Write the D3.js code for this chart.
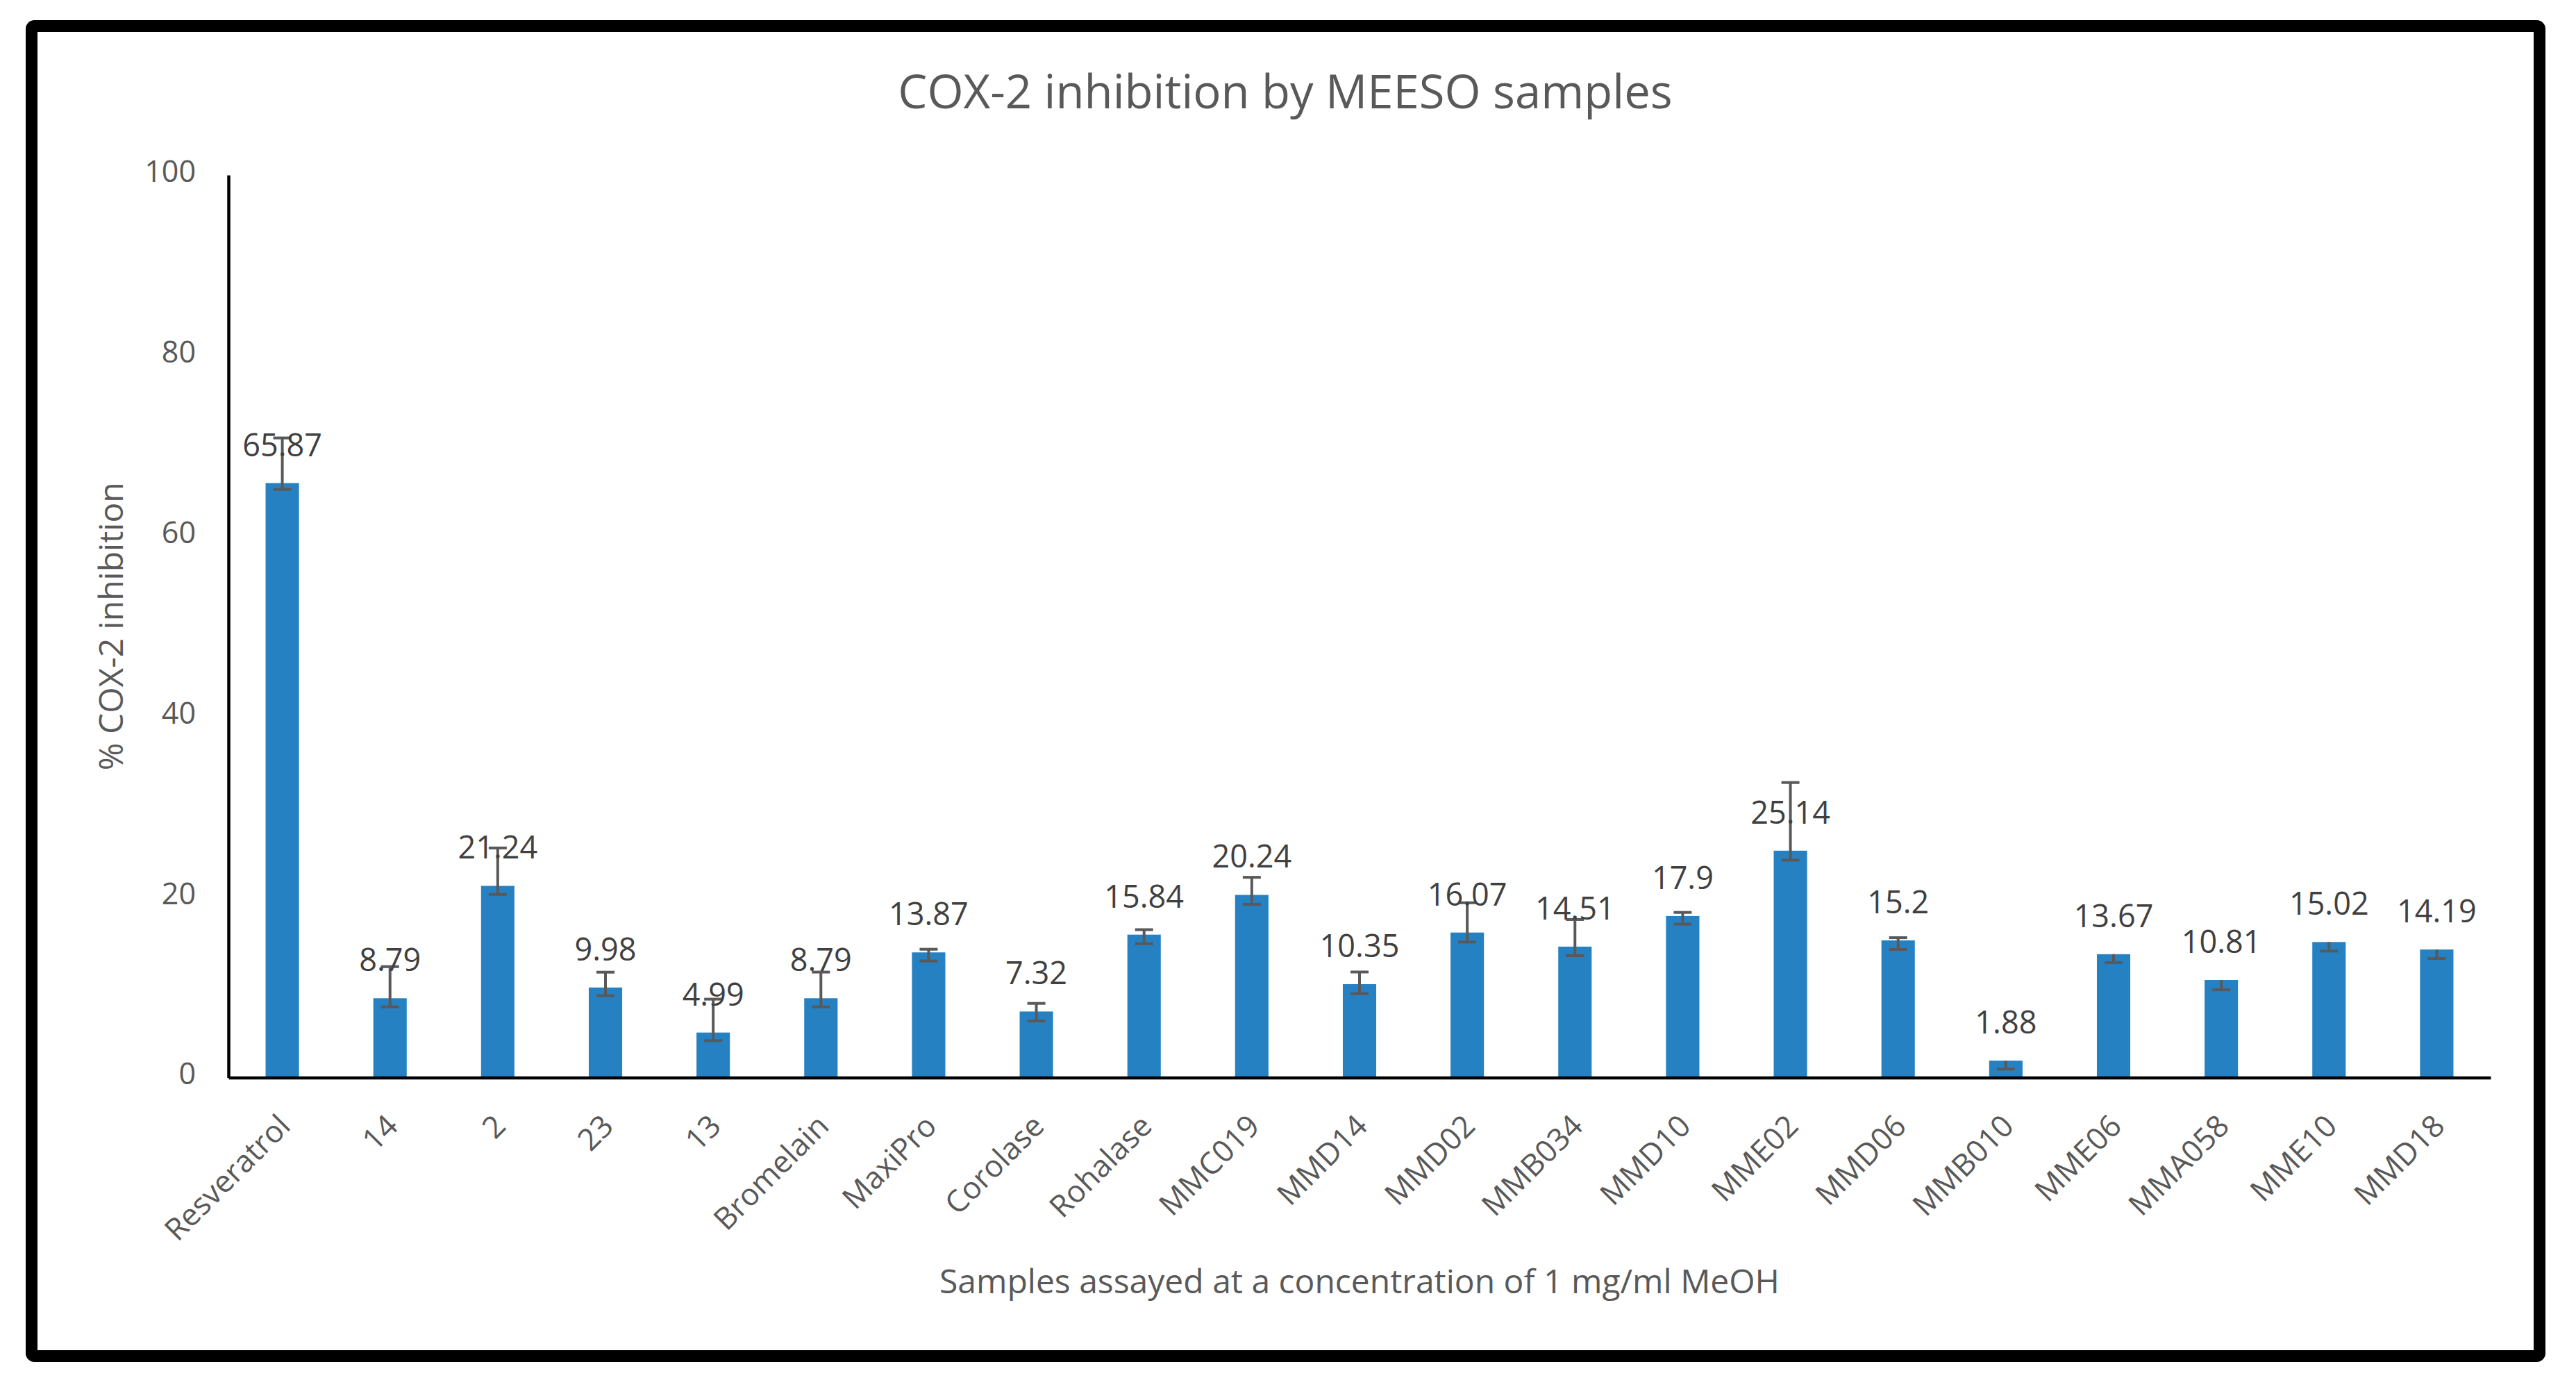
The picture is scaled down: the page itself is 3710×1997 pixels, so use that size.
<!DOCTYPE html>
<html>
<head>
<meta charset="utf-8">
<title>COX-2 inhibition by MEESO samples</title>
<script src="https://cdn.jsdelivr.net/npm/d3@7/dist/d3.min.js"></script>
<style>
    body { margin: 0; background: #ffffff; }
    text { font-family: "Open Sans", sans-serif; }
</style>
</head>
<body>
<div id="chart"></div>
<script>
// data
var samples = ["Resveratrol", "14", "2", "23", "13", "Bromelain", "MaxiPro", "Corolase", "Rohalase",
    "MMC019", "MMD14", "MMD02", "MMB034", "MMD10", "MME02", "MMD06", "MMB010", "MME06", "MMA058",
    "MME10", "MMD18"];
var inhibition = [65.87, 8.79, 21.24, 9.98, 4.99, 8.79, 13.87, 7.32, 15.84, 20.24, 10.35, 16.07,
    14.51, 17.9, 25.14, 15.2, 1.88, 13.67, 10.81, 15.02, 14.19];
var errPlus = [5.0, 3.5, 4.2, 1.7, 3.7, 2.9, 0.35, 0.9, 0.55, 1.95, 1.35, 3.3, 3.0, 0.4, 7.55, 0.3,
    0, 0, 0, 0, 0];
var errMinus = [0.7, 0.95, 0.95, 0.9, 0.9, 0.95, 0.95, 1.05, 1.0, 1.05, 1.05, 1.05, 1.0, 0.9, 1.05,
    1.0, 0.94, 0.94, 1.08, 1.0, 1.0];
var yTicks = [0, 20, 40, 60, 80, 100];

var chartTitle = "COX-2 inhibition by MEESO samples";
var xTitle = "Samples assayed at a concentration of 1 mg/ml MeOH";
var yTitle = "% COX-2 inhibition";

// STEP 1: SET UP THE CANVAS
var svgWidth = 3710;
var svgHeight = 1997;

var plot = { left: 329, right: 3587, top: 252, bottom: 1551.5 };

var svg = d3.select("#chart")
    .append("svg")
    .attr("width", svgWidth)
    .attr("height", svgHeight);

svg.append("rect")
    .attr("width", svgWidth)
    .attr("height", svgHeight)
    .attr("fill", "#ffffff");

// outer frame
svg.append("rect")
    .attr("x", 45.5)
    .attr("y", 37.5)
    .attr("width", 3612)
    .attr("height", 1915)
    .attr("rx", 4)
    .attr("fill", "none")
    .attr("stroke", "#000000")
    .attr("stroke-width", 17);

// STEP 2: PREPARE THE DATA
var rows = samples.map(function(name, i) {
    return { name: name, value: inhibition[i], plus: errPlus[i], minus: errMinus[i] };
});

// STEP 3: SCALES
var xScale = d3.scaleBand()
    .domain(samples)
    .range([plot.left, plot.right])
    .paddingInner(0.69)
    .paddingOuter(0.345);

var yScale = d3.scaleLinear()
    .domain([0, 100])
    .range([plot.bottom, plot.top]);

// STEP 4: AXES
var leftAxis = d3.axisLeft(yScale)
    .tickValues(yTicks)
    .tickSize(0)
    .tickPadding(47);

var bottomAxis = d3.axisBottom(xScale)
    .tickSize(0)
    .tickFormat("");

var yAxis = svg.append("g")
    .attr("transform", `translate(${plot.left}, 0)`)
    .call(leftAxis);

yAxis.select(".domain")
    .attr("stroke", "#000000")
    .attr("stroke-width", 4.5);

yAxis.selectAll("text")
    .attr("font-family", "'Open Sans', sans-serif")
    .attr("font-size", 43)
    .attr("dy", "0.22em")
    .attr("fill", "#595959");

// STEP 5: BARS
svg.append("g")
    .selectAll("rect")
    .data(rows)
    .enter()
    .append("rect")
    .attr("x", d => xScale(d.name))
    .attr("y", d => yScale(d.value))
    .attr("width", xScale.bandwidth())
    .attr("height", d => yScale(0) - yScale(d.value))
    .attr("fill", "#2681c2");

var xAxis = svg.append("g")
    .attr("transform", `translate(0, ${plot.bottom})`)
    .call(bottomAxis);

xAxis.select(".domain")
    .attr("stroke", "#000000")
    .attr("stroke-width", 4.5);

// rotated category labels
svg.append("g")
    .selectAll("text")
    .data(rows)
    .enter()
    .append("text")
    .attr("transform", d => `translate(${xScale(d.name) + xScale.bandwidth() / 2 + 14}, 1624) rotate(-45)`)
    .attr("text-anchor", "end")
    .attr("font-size", 44)
    .attr("fill", "#595959")
    .text(d => d.name);

// STEP 6: ERROR BARS
var errGroup = svg.append("g")
    .attr("stroke", "#595959")
    .attr("stroke-width", 4)
    .attr("fill", "none");

var capHalf = 13;

errGroup.selectAll("line.stem")
    .data(rows)
    .enter()
    .append("line")
    .attr("class", "stem")
    .attr("x1", d => xScale(d.name) + xScale.bandwidth() / 2)
    .attr("x2", d => xScale(d.name) + xScale.bandwidth() / 2)
    .attr("y1", d => yScale(d.value + d.plus))
    .attr("y2", d => yScale(d.value - d.minus));

errGroup.selectAll("line.capTop")
    .data(rows.filter(d => d.plus > 0))
    .enter()
    .append("line")
    .attr("class", "capTop")
    .attr("x1", d => xScale(d.name) + xScale.bandwidth() / 2 - capHalf)
    .attr("x2", d => xScale(d.name) + xScale.bandwidth() / 2 + capHalf)
    .attr("y1", d => yScale(d.value + d.plus))
    .attr("y2", d => yScale(d.value + d.plus));

errGroup.selectAll("line.capBottom")
    .data(rows)
    .enter()
    .append("line")
    .attr("class", "capBottom")
    .attr("x1", d => xScale(d.name) + xScale.bandwidth() / 2 - capHalf)
    .attr("x2", d => xScale(d.name) + xScale.bandwidth() / 2 + capHalf)
    .attr("y1", d => yScale(d.value - d.minus))
    .attr("y2", d => yScale(d.value - d.minus));

// STEP 7: DATA LABELS
svg.append("g")
    .selectAll("text")
    .data(rows)
    .enter()
    .append("text")
    .attr("x", d => xScale(d.name) + xScale.bandwidth() / 2)
    .attr("y", d => yScale(d.value) - 39)
    .attr("text-anchor", "middle")
    .attr("font-size", 45)
    .attr("fill", "#404040")
    .text(d => d.value);

// STEP 8: TITLES
svg.append("text")
    .attr("x", 1851)
    .attr("y", 156)
    .attr("text-anchor", "middle")
    .attr("font-size", 67)
    .attr("fill", "#595959")
    .text(chartTitle);

svg.append("text")
    .attr("x", (plot.left + plot.right) / 2)
    .attr("y", 1862)
    .attr("text-anchor", "middle")
    .attr("font-size", 48)
    .attr("fill", "#595959")
    .text(xTitle);

svg.append("text")
    .attr("transform", `translate(177, ${(plot.top + plot.bottom) / 2}) rotate(-90)`)
    .attr("text-anchor", "middle")
    .attr("font-size", 48)
    .attr("fill", "#595959")
    .text(yTitle);
</script>
</body>
</html>
